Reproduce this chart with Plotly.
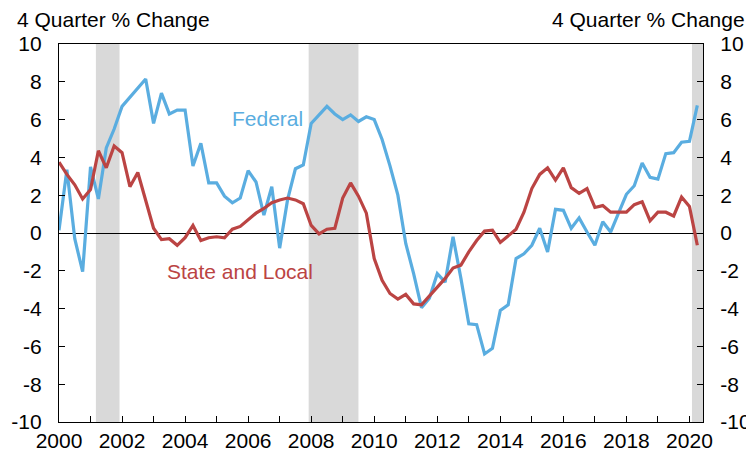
import plotly.graph_objects as go

start_year = 2000
federal = [0.15, 3.35, -0.3, -2.05, 3.5, 1.8, 4.5, 5.5, 6.7, 7.2,
           7.65, 8.15, 5.8, 7.4, 6.3, 6.5, 6.5, 3.55, 4.75, 2.65,
           2.65, 1.95, 1.6, 1.85, 3.3, 2.7, 0.95, 2.45, -0.8, 1.75,
           3.4, 3.6, 5.8, 6.25, 6.7, 6.3, 6.0, 6.25, 5.9, 6.15,
           6.0, 4.95, 3.55, 2.0, -0.55, -2.15, -3.95, -3.45, -2.15, -2.6,
           -0.2, -2.4, -4.8, -4.85, -6.4, -6.1, -4.1, -3.8, -1.35, -1.1,
           -0.65, 0.25, -1.0, 1.25, 1.2, 0.25, 0.8, 0.05, -0.65, 0.6,
           0.05, 1.05, 2.05, 2.5, 3.7, 2.95, 2.85, 4.2, 4.25, 4.8,
           4.85, 6.75]
state_local = [3.75, 3.1, 2.55, 1.8, 2.3, 4.35, 3.45, 4.6, 4.25, 2.45,
               3.2, 1.65, 0.25, -0.35, -0.3, -0.65, -0.25, 0.4, -0.4, -0.25,
               -0.2, -0.25, 0.2, 0.35, 0.7, 1.05, 1.3, 1.6, 1.75, 1.85,
               1.75, 1.55, 0.4, -0.05, 0.2, 0.25, 1.85, 2.65, 1.95, 1.05,
               -1.35, -2.5, -3.2, -3.5, -3.25, -3.75, -3.8, -3.35, -2.9, -2.4,
               -1.85, -1.7, -1.0, -0.4, 0.1, 0.15, -0.5, -0.15, 0.2, 1.1,
               2.35, 3.1, 3.45, 2.8, 3.45, 2.4, 2.1, 2.35, 1.35, 1.45,
               1.1, 1.1, 1.1, 1.5, 1.65, 0.65, 1.1, 1.1, 0.9, 1.9,
               1.4, -0.65]
recession_start = [2001.17, 2007.92, 2020.08]
recession_end = [2001.92, 2009.5, 2020.5]
year_ticks = list(range(2000, 2021))
year_labels = [str(y) if y % 2 == 0 else "" for y in year_ticks]
y_ticks = list(range(-10, 11, 2))
y_labels = [str(v) for v in y_ticks]

dates = [start_year + i / 4 for i in range(len(federal))]

BLUE = "#5AADE0"
RED = "#BB4443"
FONT = "Liberation Sans, Arial, Helvetica, sans-serif"
FS = 21

fig = go.Figure()
fig.add_trace(go.Scatter(x=dates, y=federal, mode="lines", name="Federal",
                         line=dict(color=BLUE, width=3.2)))
fig.add_trace(go.Scatter(x=dates, y=state_local, mode="lines", name="State and Local",
                         line=dict(color=RED, width=3.2)))
fig.add_trace(go.Scatter(x=[dates[0]], y=[0], yaxis="y2", mode="lines",
                         line=dict(width=0), showlegend=False, hoverinfo="skip"))

for s, e in zip(recession_start, recession_end):
    fig.add_shape(type="rect", xref="x", yref="paper", x0=s, x1=e, y0=0, y1=1,
                  fillcolor="#D9D9D9", line=dict(width=0), layer="below")

fig.add_annotation(x=-0.066, xref="paper", y=1.0635, yref="paper", text="4 Quarter % Change",
                   showarrow=False, xanchor="left", yanchor="middle", borderpad=0,
                   font=dict(size=FS, color="black", family=FONT))
fig.add_annotation(x=1.066, xref="paper", y=1.0635, yref="paper", text="4 Quarter % Change",
                   showarrow=False, xanchor="right", yanchor="middle", borderpad=0,
                   font=dict(size=FS, color="black", family=FONT))
fig.add_annotation(x=2006.63, y=6.08, text="Federal", showarrow=False,
                   font=dict(size=FS, color=BLUE, family=FONT))
fig.add_annotation(x=2005.75, y=-2.06, text="State and Local", showarrow=False,
                   font=dict(size=FS, color=RED, family=FONT))

axis_common = dict(showgrid=False, showline=True, linecolor="black", linewidth=1.3,
                   ticks="inside", ticklen=6, tickcolor="black", tickwidth=1.3,
                   automargin=False,
                   tickfont=dict(size=FS, color="black", family=FONT))

# the page places the figure 8 px from the top-left corner
fig.update_layout(
    width=746, height=451,
    margin=dict(l=51, r=51, t=36, b=37, autoexpand=False),
    paper_bgcolor="white", plot_bgcolor="white",
    showlegend=False,
    xaxis=dict(range=[2000, 2020.43], tickvals=year_ticks, ticktext=year_labels,
               mirror=True, zeroline=False, **axis_common),
    yaxis=dict(range=[-10, 10], tickvals=y_ticks, ticktext=y_labels, zeroline=True,
               zerolinecolor="black", zerolinewidth=1.2, ticklabelstandoff=12,
               **axis_common),
    yaxis2=dict(range=[-10, 10], tickvals=y_ticks, ticktext=y_labels, overlaying="y",
                side="right", zeroline=False, ticklabelstandoff=12, **axis_common),
)

fig.write_html("out.html")
